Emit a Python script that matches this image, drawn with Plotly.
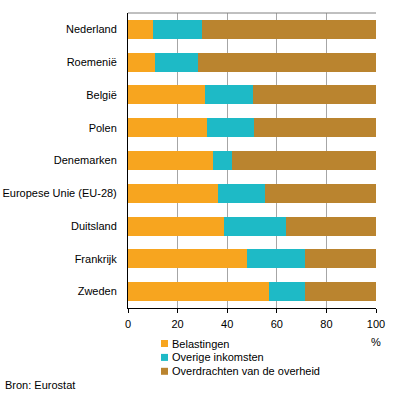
import plotly.graph_objects as go

categories = ["Nederland", "Roemenië", "België", "Polen", "Denemarken",
              "Europese Unie (EU-28)", "Duitsland", "Frankrijk", "Zweden"]
belastingen = [10.1, 10.9, 31.0, 31.9, 34.3, 36.2, 38.7, 48.0, 56.9]
overige = [19.6, 17.2, 19.4, 18.8, 7.5, 19.0, 24.9, 23.4, 14.5]
overdrachten = [70.3, 71.9, 49.6, 49.3, 58.2, 44.8, 36.4, 28.6, 28.6]
series_names = ["Belastingen", "Overige inkomsten", "Overdrachten van de overheid"]
colors = ["#F7A51F", "#1EBAC6", "#BA842F"]
x_ticks = [0, 20, 40, 60, 80, 100]

# layout geometry (pixels)
W, H = 396, 393
L, R, T, B = 128, 20, 13, 85
PW, PH = W - L - R, H - T - B

def px_x(px):
    return (px - L) / PW

def px_y(py):
    return (H - B - py) / PH

fig = go.Figure()
for name, vals, col in zip(series_names, [belastingen, overige, overdrachten], colors):
    fig.add_trace(go.Bar(y=categories, x=vals, name=name, orientation="h",
                         marker=dict(color=col, line=dict(width=0))))

font = "Liberation Sans, Arial, sans-serif"

shapes = [dict(type="line", xref="paper", yref="paper", x0=0, x1=1, y0=1, y1=1,
               line=dict(color="#808080", width=1))]
annotations = [
    dict(text="%", xref="x", yref="paper", x=100, y=px_y(342), showarrow=False,
         xanchor="center", yanchor="middle", font=dict(size=11)),
    dict(text="Bron: Eurostat", xref="paper", yref="paper", x=px_x(3), y=px_y(385),
         xanchor="left", yanchor="middle", showarrow=False, font=dict(size=11)),
]
# legend (drawn manually for compact row spacing)
for i, (name, col) in enumerate(zip(series_names, colors)):
    cy = 343.5 + i * 13.9
    shapes.append(dict(type="rect", xref="paper", yref="paper",
                       x0=px_x(161), x1=px_x(168), y0=px_y(cy - 3.5), y1=px_y(cy + 3.5),
                       fillcolor=col, line=dict(width=0)))
    annotations.append(dict(text=name, xref="paper", yref="paper", x=px_x(170),
                            y=px_y(cy), xanchor="left", yanchor="middle",
                            showarrow=False, font=dict(size=11)))

fig.update_layout(
    barmode="stack",
    bargap=0.42,
    width=W, height=H,
    autosize=False,
    margin=dict(l=L, r=R, t=T, b=B, pad=0, autoexpand=False),
    paper_bgcolor="white", plot_bgcolor="white",
    font=dict(family=font, size=11, color="black"),
    showlegend=False,
    xaxis=dict(range=[0, 100], tickvals=x_ticks, showgrid=True, gridcolor="#A6A6A6",
               gridwidth=1, showline=True, linecolor="black", linewidth=1,
               ticks="outside", ticklen=4, tickcolor="black", zeroline=False,
               ticklabelstandoff=2, fixedrange=True, automargin=False),
    yaxis=dict(categoryorder="array", categoryarray=categories, autorange="reversed",
               showline=True, linecolor="black", linewidth=1, ticks="",
               ticklabelstandoff=8, showgrid=False, fixedrange=True, automargin=False),
    shapes=shapes,
    annotations=annotations,
)
fig.write_html("out.html", config={"displayModeBar": False},
               post_script="document.body.style.margin='0';")
